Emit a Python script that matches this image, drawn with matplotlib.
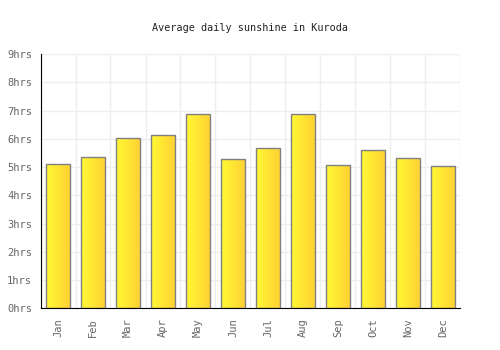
import numpy as np
import matplotlib
matplotlib.use("Agg")
import matplotlib.pyplot as plt
from matplotlib.colors import LinearSegmentedColormap

months = ["Jan", "Feb", "Mar", "Apr", "May", "Jun",
          "Jul", "Aug", "Sep", "Oct", "Nov", "Dec"]
sunshine = [5.1, 5.35, 6.03, 6.13, 6.88, 5.28, 5.67, 6.88, 5.07, 5.6, 5.32, 5.03]
yticks = list(range(0, 10))
ylabels = [f"{v}hrs" for v in yticks]

plt.rcParams["font.family"] = "DejaVu Sans Mono"

fig = plt.figure(figsize=(5, 3.5), dpi=100)
ax = fig.add_axes([0.081, 0.119, 0.840, 0.726])

x = np.arange(len(months))
width = 0.667
grad = LinearSegmentedColormap.from_list("sun", ["#fff933", "#ffd234"])
gimg = np.linspace(0, 1, 64).reshape(1, -1)

bars = ax.bar(x, sunshine, width=width, color="none", edgecolor="#808080",
              linewidth=1.0, zorder=3)
for b in bars:
    x0, y0, w, h = b.get_x(), b.get_y(), b.get_width(), b.get_height()
    im = ax.imshow(gimg, cmap=grad, aspect="auto", extent=(x0, x0 + w, y0, y0 + h),
                   zorder=2, interpolation="bilinear")
    im.set_clip_path(b)

ax.set_xlim(-0.5, len(months) - 0.5)
ax.set_ylim(0, 9)
ax.set_yticks(yticks)
ax.set_yticklabels(ylabels)
ax.set_xticks(x)
ax.set_xticklabels(months, rotation=90)
ax.set_xticks(np.arange(-0.5, len(months), 1), minor=True)
ax.tick_params(axis="both", which="both", length=0, labelsize=7.5,
               labelcolor="#666666")
ax.tick_params(axis="x", pad=7)
ax.tick_params(axis="y", pad=6)
ax.grid(True, which="minor", axis="x", color="#eeeeee", lw=1, zorder=0)
ax.grid(True, which="major", axis="y", color="#eeeeee", lw=1, zorder=0)

for s in ("top", "right"):
    ax.spines[s].set_visible(False)
ax.spines["left"].set_color("black")
ax.spines["bottom"].set_color("black")

fig.text(0.5, 0.92, "Average daily sunshine in Kuroda", ha="center",
         va="center", fontsize=7.3, color="#222222")

fig.savefig("out.png", dpi=100)
